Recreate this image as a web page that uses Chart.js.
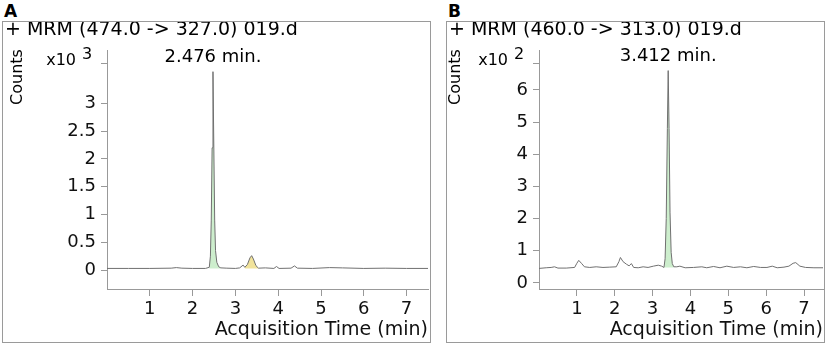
<!DOCTYPE html>
<html>
<head>
<meta charset="utf-8">
<script src="https://cdn.jsdelivr.net/npm/chart.js@4.4.0/dist/chart.umd.min.js"></script>
<style>
  body { margin: 0; background: #fff; }
  #wrap { position: relative; width: 829px; height: 348px; font-family: "DejaVu Sans", sans-serif; }
  .lbl { position: absolute; font-weight: bold; font-size: 17px; line-height: 17px; color: #000; }
  .box { position: absolute; border: 1px solid #9a9a9a; box-sizing: border-box; }
  .box canvas { display: block; }
</style>
</head>
<body>
<div id="wrap">
  <div class="lbl" style="left:4px;top:3px">A</div>
  <div class="box" style="left:2px;top:21px;width:429px;height:322px"><canvas id="chartA" width="427" height="320"></canvas></div>
  <div class="lbl" style="left:448px;top:3px">B</div>
  <div class="box" style="left:446px;top:21px;width:379px;height:322px"><canvas id="chartB" width="377" height="320"></canvas></div>
</div>
<script>
// Panel A : MRM 474 -> 327, counts x10^3
const timeA = [0, 0.5, 1.0, 1.5, 1.62, 1.75, 2.0, 2.3, 2.39, 2.416, 2.436, 2.456, 2.476, 2.496, 2.516, 2.536, 2.566, 2.61, 2.66, 2.80,
  3.0, 3.10, 3.18, 3.22, 3.28, 3.34, 3.38, 3.42, 3.48, 3.54, 3.70, 3.90, 3.96, 4.02, 4.30, 4.38, 4.45, 4.80, 5.20, 5.50, 6.0, 6.5, 7.0, 7.5];
const countsA = [0.03, 0.03, 0.03, 0.035, 0.045, 0.035, 0.03, 0.03, 0.05, 0.25, 0.9, 2.2, 3.57, 2.2, 0.9, 0.35, 0.14, 0.06, 0.04, 0.035,
  0.03, 0.04, 0.09, 0.05, 0.10, 0.22, 0.26, 0.20, 0.08, 0.035, 0.04, 0.03, 0.065, 0.03, 0.035, 0.075, 0.035, 0.03, 0.045, 0.04, 0.03, 0.035, 0.03, 0.03];
const greenRangeA = [2.38, 2.66];
const yellowRangeA = [3.22, 3.54];
const peakTimeA = 2.476;
const yTicksA = [0, 0.5, 1, 1.5, 2, 2.5, 3];

// Panel B : MRM 460 -> 313, counts x10^2
const timeB = [0, 0.19, 0.32, 0.41, 0.50, 0.72, 0.94, 1.00, 1.05, 1.12, 1.20, 1.34, 1.51, 1.69, 1.87, 2.04, 2.11, 2.15, 2.22, 2.31,
  2.38, 2.44, 2.50, 2.62, 2.75, 2.88, 3.02, 3.15, 3.24, 3.30, 3.33, 3.36, 3.39, 3.412, 3.435, 3.46, 3.49, 3.52, 3.56, 3.64,
  3.72, 3.86, 4.08, 4.30, 4.43, 4.61, 4.78, 4.96, 5.14, 5.32, 5.49, 5.67, 5.85, 6.02, 6.16, 6.29, 6.47, 6.60, 6.71, 6.78,
  6.89, 7.04, 7.26, 7.5];
const countsB = [0.45, 0.47, 0.48, 0.50, 0.46, 0.46, 0.48, 0.61, 0.70, 0.61, 0.50, 0.48, 0.50, 0.48, 0.49, 0.50, 0.66, 0.79, 0.66, 0.58,
  0.53, 0.60, 0.48, 0.47, 0.50, 0.48, 0.52, 0.55, 0.52, 0.48, 0.75, 2.0, 4.8, 6.6, 4.8, 2.2, 0.95, 0.6, 0.50, 0.50,
  0.52, 0.47, 0.48, 0.50, 0.47, 0.51, 0.47, 0.52, 0.48, 0.50, 0.47, 0.51, 0.48, 0.48, 0.52, 0.47, 0.49, 0.52, 0.61, 0.63,
  0.52, 0.48, 0.47, 0.47];
const greenRangeB = [3.30, 3.56];
const peakTimeB = 3.412;
const yTicksB = [0, 1, 2, 3, 4, 5, 6];
const xTicks = [1, 2, 3, 4, 5, 6, 7];

const FONT = '"DejaVu Sans", sans-serif';

function pts(t, c) { return t.map((x, i) => ({ x: x, y: c[i] })); }
function part(t, c, r) { return pts(t, c).filter(p => p.x >= r[0] && p.x <= r[1]); }

// texts that are not tied to an axis: header, Counts, x10^n, peak time
const decor = {
  id: 'decor',
  afterDraw(chart, args, o) {
    const ctx = chart.ctx, xs = chart.scales.x, ys = chart.scales.y;
    const left = chart.chartArea.left;
    ctx.save();
    ctx.fillStyle = '#000';
    ctx.font = '19px ' + FONT;
    ctx.textAlign = 'left';
    ctx.textBaseline = 'middle';
    ctx.fillText(o.header, 2, 8);

    ctx.font = '18px ' + FONT;
    ctx.textAlign = 'center';
    ctx.textBaseline = 'bottom';
    ctx.fillText(o.peakTime.toFixed(3) + ' min.', xs.getPixelForValue(o.peakTime), ys.getPixelForValue(o.peakValue) - 5);

    ctx.font = '16px ' + FONT;
    ctx.textAlign = 'right';
    ctx.textBaseline = 'middle';
    ctx.fillText('x10', left - 31, 39);
    ctx.textAlign = 'left';
    ctx.fillText(o.exp, left - 25, 33);
    ctx.strokeStyle = '#999';
    ctx.lineWidth = 1;
    ctx.beginPath();
    ctx.moveTo(left - 6, 41.5);
    ctx.lineTo(left, 41.5);
    ctx.stroke();

    ctx.translate(o.countsX, 55);
    ctx.rotate(-Math.PI / 2);
    ctx.textAlign = 'center';
    ctx.fillText('Counts', 0, 0);
    ctx.restore();
  }
};

function makeChart(id, trace, fills, yMin, yMax, yTicks, yWidth, padRight, deco) {
  const datasets = [{
    data: trace,
    borderColor: '#707070',
    borderWidth: 1,
    pointRadius: 0,
    fill: false,
    order: 0
  }];
  fills.forEach(f => datasets.push({
    data: f.data,
    borderWidth: 0,
    borderColor: 'rgba(0,0,0,0)',
    backgroundColor: f.color,
    pointRadius: 0,
    fill: { value: f.base },
    order: 1
  }));
  return new Chart(document.getElementById(id), {
    type: 'line',
    data: { datasets: datasets },
    options: {
      responsive: false,
      animation: false,
      layout: { padding: { top: 28, right: padRight, left: 0, bottom: 0 } },
      plugins: { legend: { display: false }, tooltip: { enabled: false }, decor: deco },
      scales: {
        x: {
          type: 'linear', min: 0, max: 7.5,
          afterBuildTicks: s => { s.ticks = xTicks.map(v => ({ value: v })); },
          afterFit: s => { s.height = 53; },
          grid: { drawOnChartArea: false, tickLength: 7, color: '#999' },
          border: { color: '#999' },
          ticks: { color: '#111', font: { family: FONT, size: 18 }, padding: 3, maxRotation: 0,
                   callback: v => String(v) },
          title: { display: true, text: 'Acquisition Time (min)', align: 'end', color: '#111',
                   font: { family: FONT, size: 19 }, padding: { top: 0, bottom: 1 } }
        },
        y: {
          type: 'linear', min: yMin, max: yMax,
          afterBuildTicks: s => { s.ticks = yTicks.map(v => ({ value: v })); },
          afterFit: s => { s.width = yWidth; },
          grid: { drawOnChartArea: false, tickLength: 6, color: '#999' },
          border: { color: '#999' },
          ticks: { color: '#111', font: { family: FONT, size: 18 }, padding: 5,
                   callback: v => String(v) }
        }
      }
    },
    plugins: [decor]
  });
}

makeChart('chartA', pts(timeA, countsA), [
  { data: part(timeA, countsA, greenRangeA), color: 'rgba(200,236,200,0.9)', base: 0.03 },
  { data: part(timeA, countsA, yellowRangeA), color: 'rgba(240,225,150,0.95)', base: 0.03 }
], -0.34, 3.96, yTicksA, 104, 2,
  { header: '+ MRM (474.0 -> 327.0) 019.d', peakTime: peakTimeA, peakValue: 3.57, exp: '3', countsX: 15 });

makeChart('chartB', pts(timeB, countsB), [
  { data: part(timeB, countsB, greenRangeB), color: 'rgba(200,236,200,0.9)', base: 0.48 }
], -0.19, 7.24, yTicksB, 92, 1,
  { header: '+ MRM (460.0 -> 313.0) 019.d', peakTime: peakTimeB, peakValue: 6.6, exp: '2', countsX: 9 });
</script>
</body>
</html>
